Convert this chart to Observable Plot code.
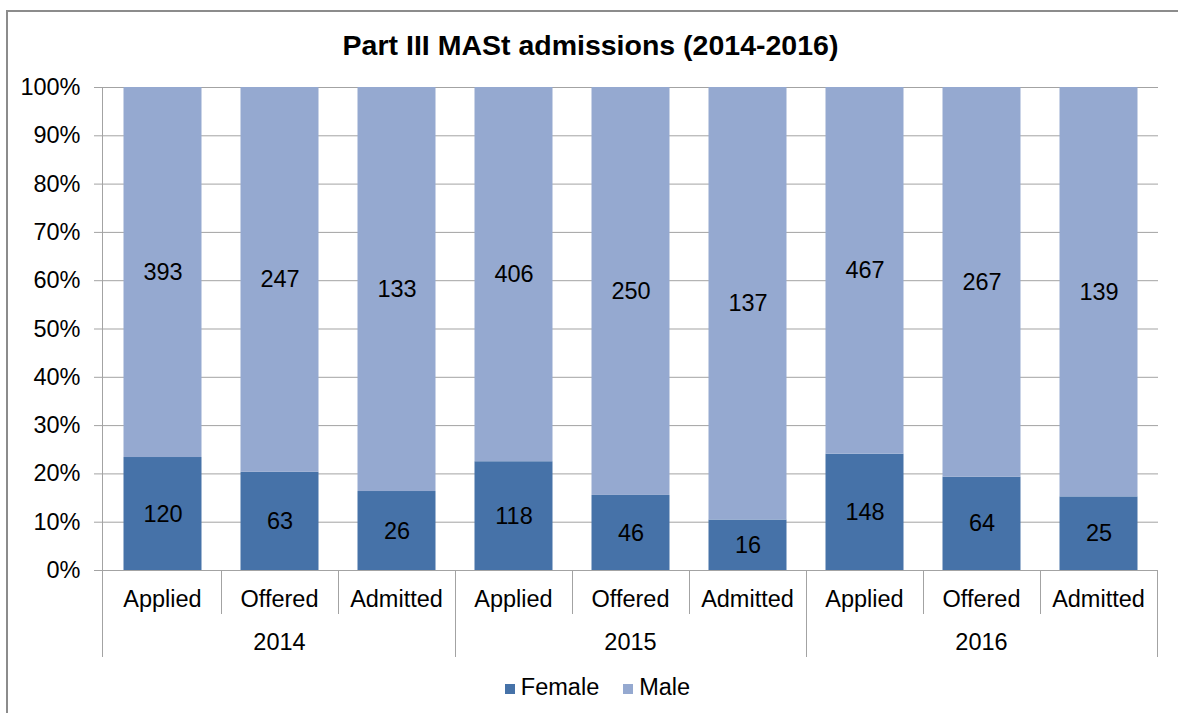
<!DOCTYPE html>
<html><head><meta charset="utf-8">
<script src="https://cdn.jsdelivr.net/npm/d3@7"></script>
<script src="https://cdn.jsdelivr.net/npm/@observablehq/plot@0.6"></script>
<style>
body{margin:0;background:#fff;font-family:"Liberation Sans",Arial,sans-serif;color:#000;}
#frame{position:absolute;left:6px;top:10px;width:1220px;height:760px;border:2px solid #8c8c8c;box-sizing:border-box;}
#title{position:absolute;left:0;top:28px;width:1181px;text-align:center;font-weight:bold;font-size:28.5px;line-height:34px;}
#chart{position:absolute;left:0;top:70px;}
#legend{position:absolute;top:672px;left:0;width:1195px;text-align:center;font-size:23.5px;line-height:30px;}
.item{display:inline-block;margin:0 12px;}
.sw{display:inline-block;width:10px;height:10px;margin-right:6px;vertical-align:1px;}
</style></head>
<body>
<div id="frame"></div>
<div id="title">Part III MASt admissions (2014-2016)</div>
<div id="chart"></div>
<div id="legend"></div>
<script>
const years = ["2014", "2015", "2016"];
const stages = ["Applied", "Offered", "Admitted"];
const female = [120, 63, 26, 118, 46, 16, 148, 64, 25];
const male = [393, 247, 133, 406, 250, 137, 467, 267, 139];
const series = ["Female", "Male"];
const colors = ["#4672a8", "#95a9d0"];
const yTicks = [0, 0.1, 0.2, 0.3, 0.4, 0.5, 0.6, 0.7, 0.8, 0.9, 1];

const keys = [];
years.forEach(y => stages.forEach(s => keys.push(y + "|" + s)));
const rows = [];
keys.forEach((k, i) => {
  rows.push({key: k, sex: "Female", count: female[i]});
  rows.push({key: k, sex: "Male", count: male[i]});
});

const FS = 23.5;
const gridColor = "#a3a3a3";

function categoryAxis(index, scales, values, dims) {
  const x = scales.x;
  const bw = x(keys[1]) - x(keys[0]);
  const y0 = dims.height - dims.marginBottom;
  const g = d3.create("svg:g").attr("font-size", FS).attr("fill", "#000");
  g.append("line").attr("x1", dims.marginLeft + 0.5).attr("x2", dims.marginLeft + 0.5)
    .attr("y1", dims.marginTop).attr("y2", y0 + 87).attr("stroke", gridColor);
  keys.forEach((k, i) => {
    const xs = x(k);
    const stage = k.split("|")[1];
    g.append("text").attr("x", xs + bw / 2).attr("y", y0 + 37).attr("text-anchor", "middle").text(stage);
    const xe = xs + bw;
    const isYearEnd = (i % 3) === 2;
    g.append("line").attr("x1", Math.round(xe) + 0.5).attr("x2", Math.round(xe) + 0.5)
      .attr("y1", y0).attr("y2", y0 + (isYearEnd ? 87 : 44)).attr("stroke", gridColor);
  });
  years.forEach((yr, j) => {
    const xs = x(keys[j * 3]);
    g.append("text").attr("x", xs + bw * 1.5).attr("y", y0 + 80).attr("text-anchor", "middle").text(yr);
  });
  return g.node();
}

const chart = Plot.plot({
  width: 1178,
  height: 600,
  marginTop: 17,
  marginBottom: 100,
  marginLeft: 102,
  marginRight: 20,
  style: {fontFamily: "'Liberation Sans', Arial, sans-serif", fontSize: FS + "px", overflow: "visible", background: "transparent"},
  x: {domain: keys, padding: 0, axis: null},
  y: {domain: [0, 1], axis: null},
  color: {domain: series, range: colors},
  marks: [
    Plot.gridY(yTicks, {stroke: gridColor, strokeOpacity: 1}),
    Plot.barY(rows, {x: "key", y: "count", fill: "sex", offset: "normalize", insetLeft: 19.5, insetRight: 19.5}),
    Plot.text(rows, Plot.stackY({x: "key", y: "count", z: "sex", offset: "normalize", text: d => String(d.count), fontSize: FS, fill: "#000"})),
    Plot.axisY(yTicks, {label: null, tickFormat: d => Math.round(d * 100) + "%", tickSize: 8, tickPadding: 14, stroke: gridColor, fontSize: FS, fill: "#000"}),
    categoryAxis
  ]
});
document.getElementById("chart").appendChild(chart);

const legend = document.getElementById("legend");
series.forEach((s, i) => {
  const it = document.createElement("span");
  it.className = "item";
  it.innerHTML = `<span class="sw" style="background:${colors[i]}"></span>${s}`;
  legend.appendChild(it);
});
</script>
</body></html>
